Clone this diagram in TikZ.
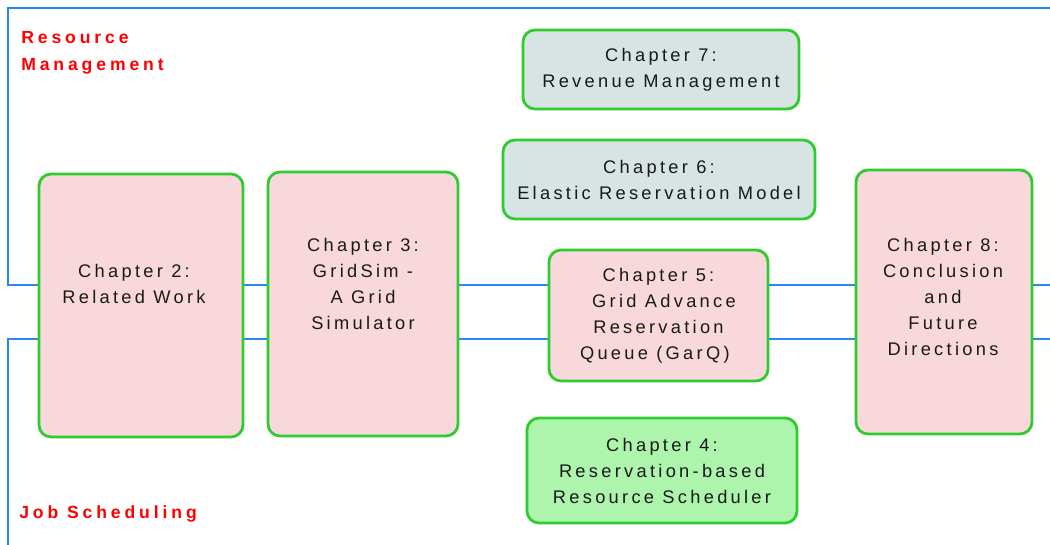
\documentclass[tikz,border=0pt]{standalone}
\usepackage{fontspec}
\setmainfont{Liberation Sans}
\newfontfamily\chfont[LetterSpace=18]{Liberation Sans}
\newfontfamily\lanefont[LetterSpace=22]{Liberation Sans}
\definecolor{laneblue}{HTML}{2A86F4}
\definecolor{boxgreen}{HTML}{2ECC2E}
\definecolor{pinkfill}{HTML}{F9D8DC}
\definecolor{greyfill}{HTML}{D7E4E3}
\definecolor{greenfill}{HTML}{ADF5AD}
\begin{document}
\begin{tikzpicture}[x=0.75pt,y=-0.75pt,
  lane/.style={draw=laneblue,line width=1.9pt},
  chbox/.style={draw=boxgreen,line width=2.1pt,rounded corners=9pt,inner sep=0pt,
    font=\chfont\fontsize{13.7}{19.5}\selectfont,align=center,text=black!90},
  chtext/.style={inner sep=0pt,font=\chfont\fontsize{13.7}{19.5}\selectfont,align=center,text=black!90},
  lanelabel/.style={inner sep=0pt,anchor=west,font=\lanefont\bfseries\fontsize{13.2}{20.25}\selectfont,text=red,align=left}]
  \useasboundingbox (0,0) rectangle (1050,545);

  % swimlane borders
  \coordinate (rmTop) at (8,8);
  \coordinate (rmTopEnd) at (1050,8);
  \coordinate (rmMid) at (8,285);
  \coordinate (rmMidEnd) at (1050,285);
  \coordinate (jsMid) at (8,339);
  \coordinate (jsMidEnd) at (1050,339);
  \coordinate (jsBot) at (8,545);
  \draw[lane] (rmTopEnd) -- (rmTop) -- (rmMid) -- (rmMidEnd);
  \draw[lane] (jsMidEnd) -- (jsMid) -- (jsBot);

  \node[lanelabel] (rm) at (21,53) {Resource\\Management};
  \node[lanelabel] (js) at (19,514) {Job Scheduling};

  % chapters
  \node[chbox,fill=pinkfill,minimum width=153pt,minimum height=197.25pt] (ch2) at (141,305.5) {};
  \node[chtext] (ch2t) at (134,284) {Chapter 2:\\Related Work};

  \node[chbox,fill=pinkfill,minimum width=142.5pt,minimum height=198pt] (ch3) at (363,304) {};
  \node[chtext] (ch3t) at (363,284) {Chapter 3:\\GridSim -\\A Grid\\Simulator};

  \node[chbox,fill=greyfill,minimum width=207pt,minimum height=59.25pt] (ch7) at (661,69.5)
    {Chapter 7:\\Revenue Management};
  \node[chbox,fill=greyfill,minimum width=234pt,minimum height=59.25pt] (ch6) at (659,179.5)
    {Chapter 6:\\Elastic Reservation Model};
  \node[chbox,fill=pinkfill,minimum width=164.25pt,minimum height=98.25pt] (ch5) at (658.5,315.5)
    {Chapter 5:\\\hspace*{0.6em}Grid Advance\\Reservation\\Queue (GarQ)\hspace*{0.4em}};
  \node[chbox,fill=greenfill,minimum width=202.5pt,minimum height=78.75pt] (ch4) at (662,470.5)
    {Chapter 4:\\Reservation-based\\Resource Scheduler};

  \node[chbox,fill=pinkfill,minimum width=132pt,minimum height=198pt] (ch8) at (944,302) {};
  \node[chtext] (ch8t) at (943,296.5) {Chapter 8:\\Conclusion\\and\\Future\\Directions};
\end{tikzpicture}
\end{document}
